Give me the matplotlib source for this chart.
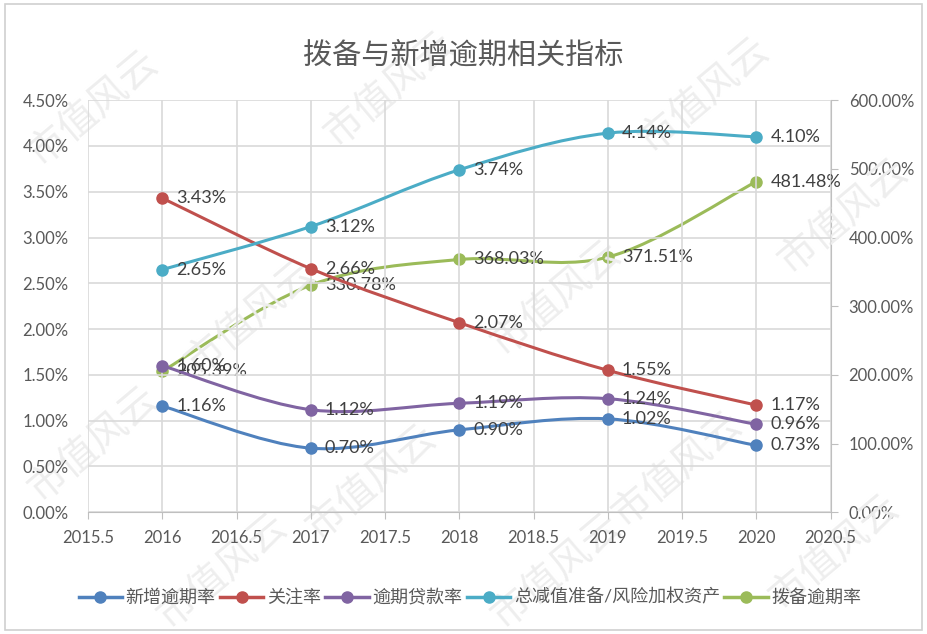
import numpy as np
import matplotlib
matplotlib.use("Agg")
import matplotlib.pyplot as plt
from matplotlib.path import Path
from matplotlib.patches import PathPatch, Rectangle
from matplotlib.lines import Line2D
from matplotlib.ticker import FuncFormatter

plt.rcParams['font.family'] = ['Lato', 'Noto Sans CJK SC', 'DejaVu Sans']

years = [2016, 2017, 2018, 2019, 2020]
xinzeng_yuqi = [1.16, 0.70, 0.90, 1.02, 0.73]       # 新增逾期率
guanzhu = [3.43, 2.66, 2.07, 1.55, 1.17]            # 关注率
yuqi_daikuan = [1.60, 1.12, 1.19, 1.24, 0.96]       # 逾期贷款率
jianzhi_rwa = [2.65, 3.12, 3.74, 4.14, 4.10]        # 总减值准备/风险加权资产
bobei_yuqi = [205.39, 330.78, 368.03, 371.51, 481.48]  # 拨备逾期率 (right axis)

names = ['新增逾期率', '关注率', '逾期贷款率', '总减值准备/风险加权资产', '拨备逾期率']
colors = ['#4F81BD', '#C0504D', '#8064A2', '#4BACC6', '#9BBB59']
txt = '#595959'


def smooth_path(xs, ys):
    # excel style smoothed line: cubic bezier through the points
    p = np.column_stack([xs, ys]).astype(float)
    pe = np.vstack([p[0], p, p[-1]])
    verts = [p[0]]
    codes = [Path.MOVETO]
    for i in range(len(p) - 1):
        c1 = pe[i + 1] + (pe[i + 2] - pe[i]) / 6.0
        c2 = pe[i + 2] - (pe[i + 3] - pe[i + 1]) / 6.0
        verts += [c1, c2, pe[i + 2]]
        codes += [Path.CURVE4] * 3
    return Path(verts, codes)


def draw_series(ax, xs, ys, color, fmt):
    ax.add_patch(PathPatch(smooth_path(xs, ys), fill=False, edgecolor=color, lw=2.2, zorder=3))
    ax.plot(xs, ys, ls='none', marker='o', ms=8, color=color, zorder=4)
    for x, y in zip(xs, ys):
        ax.annotate(fmt % y, (x, y), xytext=(14, 0), textcoords='offset pixels',
                    va='center', ha='left', fontsize=13, color='#404040', zorder=5)


fig = plt.figure(figsize=(9.27, 6.34), dpi=100)
fig.patches.append(Rectangle((0.005, 0.006), 0.99, 0.988, transform=fig.transFigure,
                             fill=False, edgecolor='#D0D0D0', lw=1.2))

# watermark
for (wx, wy) in [(0.1, 0.83), (0.42, 0.86), (0.76, 0.85), (0.27, 0.5), (0.6, 0.53),
                 (0.91, 0.66), (0.1, 0.3), (0.4, 0.24), (0.73, 0.26), (0.24, 0.1),
                 (0.6, 0.1), (0.9, 0.13)]:
    fig.text(wx, wy, '市值风云', rotation=40, fontsize=28, color='#EEEEEE',
             ha='center', va='center', zorder=0)

ax = fig.add_axes([0.095, 0.192, 0.801, 0.650])
ax2 = ax.twinx()

ax.set_xlim(2015.5, 2020.5)
ax.set_ylim(0, 4.5)
ax2.set_ylim(0, 600)
ax.set_xticks(np.arange(2015.5, 2020.51, 0.5))
ax.set_xticklabels([('%g' % v) for v in np.arange(2015.5, 2020.51, 0.5)])
ax.set_yticks(np.arange(0, 4.51, 0.5))
ax.yaxis.set_major_formatter(FuncFormatter(lambda v, p: '%.2f%%' % v))
ax2.set_yticks(np.arange(0, 601, 100))
ax2.yaxis.set_major_formatter(FuncFormatter(lambda v, p: '%.2f%%' % v))

ax.grid(True, color='#D9D9D9', lw=1.2)
ax.set_axisbelow(True)
for s in ['top', 'left']:
    ax.spines[s].set_visible(False)
    ax2.spines[s].set_visible(False)
ax.spines['bottom'].set_color('#BFBFBF')
ax.spines['right'].set_visible(False)
ax2.spines['bottom'].set_visible(False)
ax2.spines['right'].set_color('#BFBFBF')
ax.tick_params(axis='y', length=0, labelsize=12, labelcolor=txt, pad=14)
ax.tick_params(axis='x', length=5, color='#BFBFBF', labelsize=12, labelcolor=txt, pad=8)
ax2.tick_params(axis='y', length=5, color='#BFBFBF', labelsize=12, labelcolor=txt, pad=8)

draw_series(ax, years, xinzeng_yuqi, colors[0], '%.2f%%')
draw_series(ax, years, guanzhu, colors[1], '%.2f%%')
draw_series(ax, years, yuqi_daikuan, colors[2], '%.2f%%')
draw_series(ax, years, jianzhi_rwa, colors[3], '%.2f%%')
draw_series(ax2, years, bobei_yuqi, colors[4], '%.2f%%')
ax.set_zorder(ax2.get_zorder() + 1)
ax.patch.set_visible(False)
ax2.grid(False)

fig.text(0.5, 0.913, '拨备与新增逾期相关指标', ha='center', va='center', fontsize=21,
         color=txt, fontweight='light')

handles = [Line2D([0], [0], color=c, lw=2.5, marker='o', ms=8) for c in colors]
fig.legend(handles, names, loc='center', bbox_to_anchor=(0.507, 0.058), ncol=5, frameon=False,
           fontsize=13, handlelength=2.4, handletextpad=0.2, columnspacing=0.25,
           labelcolor=txt)

fig.savefig('out.png', dpi=100)
